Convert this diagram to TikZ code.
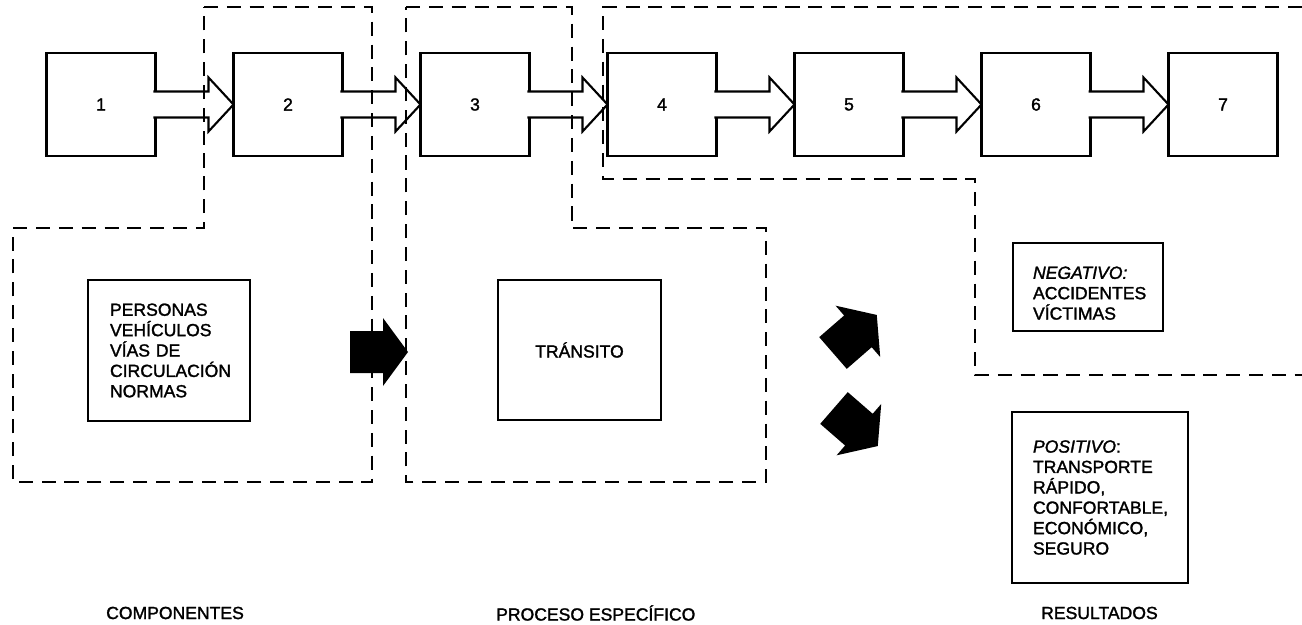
\documentclass[tikz,border=0pt]{standalone}
\usepackage{fontspec}
\setmainfont{Liberation Sans}[UprightFeatures={FakeBold=1.6},ItalicFeatures={FakeBold=1.6}]
\usetikzlibrary{calc}

% hollow arrow from box #1 to box #2
\newcommand{\flecha}[2]{%
\draw[hueca] ($(#1.east)+(-2,-13)$) -- ($(#2.west)+(-25,-13)$) -- ($(#2.west)+(-25,-27)$) -- (#2.west)
  -- ($(#2.west)+(-25,27)$) -- ($(#2.west)+(-25,13)$) -- ($(#1.east)+(-2,13)$);}
% black block arrow, rear centre #1, angle #2
\newcommand{\bloque}[2]{%
\begin{scope}[shift={(#1)},rotate=#2]
\fill (0,-21) -- (33,-21) -- (33,-34) -- (58,0) -- (33,34) -- (33,21) -- (0,21) -- cycle;
\end{scope}}

\begin{document}
\begin{tikzpicture}[x=0.02cm,y=-0.02cm,
  every node/.style={font=\fontsize{10}{11.6}\selectfont},
  caja/.style={draw, line width=1.2pt, minimum width=2.18cm, minimum height=2.06cm, inner sep=0pt, outer sep=0pt},
  hueca/.style={line width=1.2pt, fill=white},
  marco/.style={draw, line width=1.2pt, align=left, outer sep=0pt},
  limite/.style={line width=1.1pt, dash pattern=on 8pt off 5pt}]
\useasboundingbox (0,0) rectangle (1302,625);
\node[caja] (box1) at (101,104.5){1};
\node[caja] (box2) at (288,104.5){2};
\node[caja] (box3) at (475,104.5){3};
\node[caja] (box4) at (662,104.5){4};
\node[caja] (box5) at (849,104.5){5};
\node[caja] (box6) at (1036,104.5){6};
\node[caja] (box7) at (1223,104.5){7};
\flecha{box1}{box2}
\flecha{box2}{box3}
\flecha{box3}{box4}
\flecha{box4}{box5}
\flecha{box5}{box6}
\flecha{box6}{box7}
\node[marco, text width=2.36cm, inner xsep=0.44cm, minimum height=2.82cm] (comp) at (169,350.5)
  {PERSONAS\\VEHÍCULOS\\VÍAS DE\\CIRCULACIÓN\\NORMAS};
\node[marco, minimum width=3.26cm, minimum height=2.8cm] (trans) at (579.5,350){TRÁNSITO};
\node[marco, text width=2.2cm, inner xsep=0.4cm, minimum height=1.76cm] (neg) at (1088,287)
  {\rule{0pt}{14pt}\textit{NEGATIVO:}\\ACCIDENTES\\VÍCTIMAS};
\node[marco, text width=2.68cm, inner xsep=0.42cm, minimum height=3.42cm] (pos) at (1100,497.5)
  {\textit{POSITIVO}:\\TRANSPORTE\\RÁPIDO,\\CONFORTABLE,\\ECONÓMICO,\\SEGURO};
\bloque{350,352}{0}
\bloque{833,353}{41}
\bloque{834,408}{-41}
% regions
\draw[limite] (204,7) -- (372,7) -- (372,482) -- (13,482) -- (13,228) -- (204,228) -- cycle;
\draw[limite] (406,7) -- (572,7) -- (572,228) -- (766,228) -- (766,482) -- (406,482) -- cycle;
\draw[limite] (1302,7) -- (603,7) -- (603,179) -- (975,179) -- (975,375) -- (1302,375);
\node[anchor=west] (lcomp) at (100,613){COMPONENTES};
\node[anchor=west] (lproc) at (490,613){PROCESO ESPECÍFICO};
\node[anchor=west] (lres) at (1035,613){RESULTADOS};
\end{tikzpicture}
\end{document}
